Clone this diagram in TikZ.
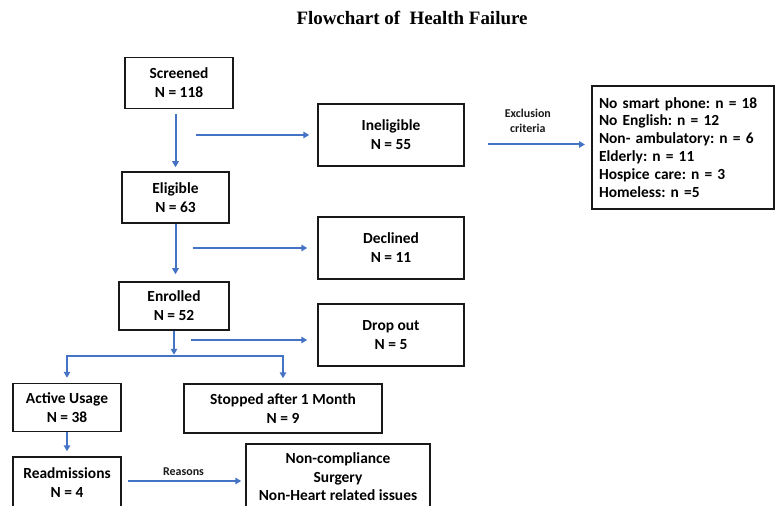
\documentclass[tikz,border=0pt]{standalone}
\usepackage{fontspec}
\setmainfont{Carlito}
\newfontfamily\titlefont{Liberation Serif}
\usepackage{tikz}
\usetikzlibrary{arrows.meta, positioning, calc}
\definecolor{flowblue}{RGB}{68,114,196}
\definecolor{boxline}{RGB}{25,25,25}
\frenchspacing
\tikzset{
  box/.style={rectangle, draw=boxline, fill=white, line width=1.5bp,
    align=center, inner sep=0pt, font=\fontsize{15.5}{19}\selectfont\bfseries},
  flow/.style={-{Triangle[length=6bp,width=6.5bp]}, line width=2bp, color=flowblue},
  note/.style={font=\fontsize{12}{15}\selectfont\bfseries, align=center, text=boxline}
}

\begin{document}
\begin{tikzpicture}[x=1bp, y=-1bp]
  \useasboundingbox (0,0) rectangle (776,506);
  \clip (0,0) rectangle (776,506);

  % Title
  \node[font=\titlefont\bfseries\fontsize{19}{21}\selectfont] (title) at (412,18) {Flowchart of\ \ Health Failure};

  % Main column
  \node[box, minimum width=108bp, minimum height=51bp] (screened) at (179,83) {Screened\\N = 118};
  \node[box, minimum width=107bp, minimum height=51bp] (eligible) at (175.5,197.5) {Eligible\\N = 63};
  \node[box, minimum width=110bp, minimum height=48bp] (enrolled) at (174,306) {Enrolled\\N = 52};

  % Side boxes
  \node[box, minimum width=146bp, minimum height=62bp] (ineligible) at (391,135) {Ineligible\\N = 55};
  \node[box, minimum width=146bp, minimum height=62bp] (declined) at (391,248) {Declined\\N = 11};
  \node[box, minimum width=146bp, minimum height=62bp] (dropout) at (391,335) {Drop out\\N = 5};

  % Exclusion criteria list
  \node[box, anchor=north west, align=left, minimum width=182bp, minimum height=123bp,
    text width=168bp, line width=2bp, font=\fontsize{15.5}{18}\selectfont\bfseries] (exclusion) at (591,85)
    {No smart phone: n = 18\\No English: n = 12\\Non- ambulatory: n = 6\\Elderly: n = 11\\Hospice care: n = 3\\Homeless: n =5};

  % Outcome boxes
  \node[box, minimum width=108bp, minimum height=48bp] (active) at (67,407.5) {Active Usage\\N = 38};
  \node[box, minimum width=198bp, minimum height=49bp] (stopped) at (283,408.5) {Stopped after 1 Month\\N = 9};
  \node[box, minimum width=108bp, minimum height=52bp] (readmit) at (67,483) {Readmissions\\N = 4};
  \node[box, minimum width=184bp, minimum height=66bp, font=\fontsize{15.5}{18.5}\selectfont\bfseries] (noncomp) at (338,477)
    {Non-compliance\\Surgery\\Non-Heart related issues};

  % Connectors
  \coordinate (split) at ($(enrolled.south)+(0,25)$);
  \draw[flow, shorten <=5bp, shorten >=4bp] (screened.south -| eligible.north) -- (eligible.north);
  \draw[flow, shorten >=7bp] (eligible.south) -- (eligible.south |- enrolled.north);
  \draw[flow, shorten >=1bp] (enrolled.south) -- (split);
  \draw[flow, shorten >=5bp] (split) -| (active.north);
  \draw[flow, shorten >=5bp] (split) -| (stopped.north);
  \draw[flow, shorten >=5bp] (active.south) -- (readmit.north);

  \draw[flow, shorten <=20bp, shorten >=8bp] (ineligible.west -| eligible.north) -- (ineligible.west);
  \draw[flow, shorten <=17bp, shorten >=10bp] (declined.west -| eligible.north) -- (declined.west);
  \draw[flow, shorten <=17bp, shorten >=10bp] ([yshift=-5bp]dropout.west -| enrolled.north) -- ([yshift=-5bp]dropout.west);

  \draw[flow, shorten <=23bp, shorten >=6bp] ([yshift=3bp]ineligible.east |- exclusion.west) -- ([yshift=3bp]exclusion.west)
    node[note, midway, above=8bp] {Exclusion\\criteria};
  \draw[flow, shorten <=6bp, shorten >=4bp] ([yshift=2bp]readmit.east) -- ([yshift=2bp]readmit.east -| noncomp.west)
    node[note, midway, above=1bp] {Reasons};
\end{tikzpicture}
\end{document}
